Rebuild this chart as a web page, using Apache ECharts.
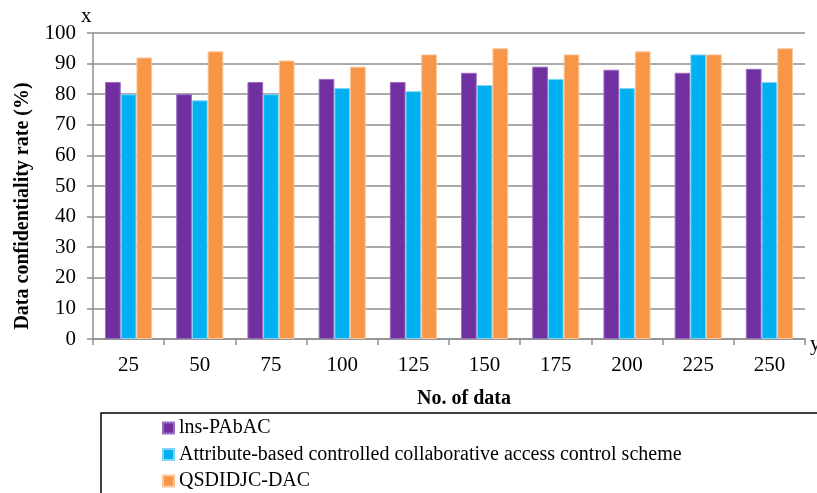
<!DOCTYPE html>
<html>
<head>
<meta charset="utf-8">
<script src="https://cdn.jsdelivr.net/npm/echarts@6/dist/echarts.min.js"></script>
<style>
  html, body { margin: 0; padding: 0; background: #fff; }
  #chart { width: 817px; height: 493px; }
</style>
</head>
<body>
<div id="chart"></div>
<script>
// Categories (number of data items)
const categories = ['25', '50', '75', '100', '125', '150', '175', '200', '225', '250'];

// Data confidentiality rate (%) per scheme
const insPAbAC = [84, 80, 84, 85, 84, 87, 89, 88, 87, 88.3];
const attributeBased = [80, 78, 80, 82, 81, 83, 85, 82, 93, 84];
const qsdidjcDac = [92, 94, 91, 89, 93, 95, 93, 94, 93, 95];

const seriesNames = [
  'lns-PAbAC',
  'Attribute-based controlled collaborative access control scheme',
  'QSDIDJC-DAC'
];

const yTicks = { min: 0, max: 100, interval: 10 };

const FONT = '"Liberation Serif", "Times New Roman", serif';
const GRID_GRAY = '#8e8e8e';

const chart = echarts.init(document.getElementById('chart'), null, { renderer: 'canvas' });

function barSeries(name, data, color, edge) {
  return {
    name: name,
    type: 'bar',
    data: data,
    barWidth: 15.7,
    barGap: '0%',
    itemStyle: { color: color, borderColor: edge, borderWidth: 1 },
    emphasis: { disabled: true }
  };
}

chart.setOption({
  animation: false,
  backgroundColor: '#ffffff',
  textStyle: { fontFamily: FONT },
  grid: {
    left: 93, right: 12, top: 33, bottom: 154,
    containLabel: false,
    outerBoundsMode: 'none'
  },
  legend: {
    orient: 'vertical',
    left: 162,
    top: 418,
    itemWidth: 11,
    itemHeight: 11,
    itemGap: 6.5,
    icon: 'rect',
    padding: 0,
    selectedMode: false,
    data: seriesNames,
    textStyle: { fontFamily: FONT, fontSize: 20, color: '#000', lineHeight: 20 }
  },
  xAxis: {
    type: 'category',
    data: categories,
    name: 'No. of data',
    nameLocation: 'middle',
    nameGap: 50,
    nameTextStyle: { fontFamily: FONT, fontSize: 20, fontWeight: 'bold', color: '#000', padding: [0, 0, 0, 30] },
    axisLine: { show: true, lineStyle: { color: GRID_GRAY, width: 1.5 } },
    axisTick: { show: true, alignWithLabel: false, length: 6, lineStyle: { color: GRID_GRAY, width: 1.5 } },
    axisLabel: { fontFamily: FONT, fontSize: 21, color: '#000', margin: 16 },
    splitLine: { show: false }
  },
  yAxis: {
    type: 'value',
    min: yTicks.min,
    max: yTicks.max,
    interval: yTicks.interval,
    name: 'Data confidentiality rate (%)',
    nameLocation: 'middle',
    nameGap: 60,
    nameRotate: 90,
    nameTextStyle: { fontFamily: FONT, fontSize: 20, fontWeight: 'bold', color: '#000', padding: [0, 40, 0, 0] },
    axisLine: { show: true, lineStyle: { color: GRID_GRAY, width: 1.5 } },
    axisTick: { show: true, length: 6, lineStyle: { color: GRID_GRAY, width: 1.5 } },
    axisLabel: { fontFamily: FONT, fontSize: 21, color: '#000', margin: 17 },
    splitLine: { show: true, lineStyle: { color: GRID_GRAY, width: 1.5 } }
  },
  graphic: [
    {
      type: 'rect',
      silent: true,
      shape: { x: 101, y: 413, width: 760, height: 120 },
      style: { fill: 'none', stroke: '#000', lineWidth: 1.5 }
    },
    {
      type: 'text',
      silent: true,
      left: 81, top: 6,
      style: { text: 'x', font: '21px ' + FONT, fill: '#000' }
    },
    {
      type: 'text',
      silent: true,
      left: 810, top: 334,
      style: { text: 'y', font: '21px ' + FONT, fill: '#000' }
    }
  ],
  series: [
    barSeries(seriesNames[0], insPAbAC, '#7030A0', '#9a6cc0'),
    barSeries(seriesNames[1], attributeBased, '#00B0F0', '#7fd6f7'),
    barSeries(seriesNames[2], qsdidjcDac, '#F79646', '#fbc59a')
  ]
});
</script>
</body>
</html>
